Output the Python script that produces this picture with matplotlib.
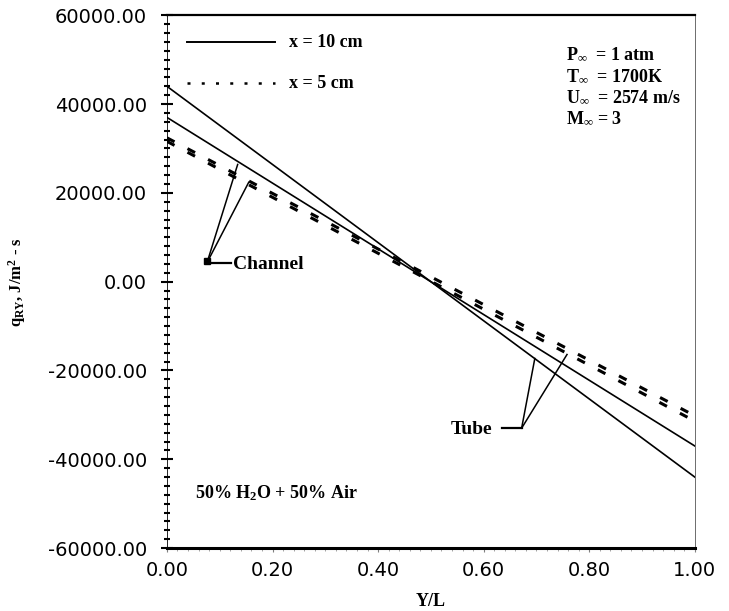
import matplotlib
matplotlib.use("Agg")
import matplotlib.pyplot as plt
from matplotlib.ticker import MultipleLocator, FormatStrFormatter

plt.rcParams["mathtext.fontset"] = "custom"
plt.rcParams["mathtext.rm"] = "Liberation Serif:bold"
plt.rcParams["mathtext.it"] = "Liberation Serif:bold"
plt.rcParams["mathtext.bf"] = "Liberation Serif:bold"
plt.rcParams["mathtext.default"] = "rm"

# Y/L positions and heat flux values
yl = [0.0, 1.0]
tube_10cm = [44000, -44000]
channel_10cm = [37000, -37000]
tube_5cm = [32400, -30200]
channel_5cm = [31600, -31400]

xticks = [0.0, 0.2, 0.4, 0.6, 0.8, 1.0]
yticks = [-60000, -40000, -20000, 0, 20000, 40000, 60000]

conditions = [r"P$_{\infty}$  = 1 atm", r"T$_{\infty}$  = 1700K",
              r"U$_{\infty}$  = 2574 m/s", r"M$_{\infty}$ = 3"]

serif = "Liberation Serif"

fig = plt.figure(figsize=(7.29, 6.11), dpi=100)
ax = fig.add_axes([0.229, 0.103, 0.724, 0.872])

ax.plot(yl, tube_10cm, color="black", lw=1.2)
ax.plot(yl, channel_10cm, color="black", lw=1.2)
ax.plot(yl, tube_5cm, color="black", lw=2.2, linestyle=(0, (2.8, 4.8)))
ax.plot(yl, channel_5cm, color="black", lw=2.2, linestyle=(0, (2.8, 4.8)))

ax.set_xlim(0, 1)
ax.set_ylim(-60000, 60000)
ax.set_xticks(xticks)
ax.set_yticks(yticks)
ax.xaxis.set_major_formatter(FormatStrFormatter("%.2f"))
ax.yaxis.set_major_formatter(FormatStrFormatter("%.2f"))
ax.yaxis.set_minor_locator(MultipleLocator(2000))
ax.xaxis.set_minor_locator(MultipleLocator(0.02))

ax.tick_params(axis="y", which="major", direction="inout", length=9, width=1.5, pad=10,
               labelsize=14)
ax.tick_params(axis="y", which="minor", direction="inout", length=5, width=1.5)
ax.tick_params(axis="x", which="major", direction="out", length=3, width=0.8, pad=6,
               labelsize=14, color="gray")
ax.tick_params(axis="x", which="minor", direction="out", length=2, width=0.5, color="gray")
ax.tick_params(top=False, right=False)

ax.spines["left"].set_linewidth(0.6)
ax.spines["bottom"].set_linewidth(2.2)
ax.spines["top"].set_linewidth(1.6)
ax.spines["right"].set_linewidth(0.6)
ax.spines["right"].set_color("#555555")

# legend drawn by hand like the original
leg_x = [0.038, 0.204]
ax.plot(leg_x, [53900, 53900], color="black", lw=1.4)
ax.plot(leg_x, [44700, 44700], color="black", lw=1.8, linestyle=(0, (1.2, 4.5)))
ax.text(0.232, 53900, "x = 10 cm", family=serif, weight="bold", fontsize=13, va="center")
ax.text(0.232, 44700, "x = 5 cm", family=serif, weight="bold", fontsize=13, va="center")

for i, s in enumerate(conditions):
    ax.text(0.756, 0.925 - i * 0.04, s, transform=ax.transAxes, family=serif,
            weight="bold", fontsize=13, va="center")

# Channel pointer
ch_corner = (0.076, 4300)
ch_ends = [(0.134, 26400), (0.155, 22400)]
for ex, ey in ch_ends:
    ax.plot([ch_corner[0], ex], [ch_corner[1], ey], color="black", lw=1.1)
ax.plot([ch_corner[0], 0.122], [ch_corner[1], ch_corner[1]], color="black", lw=1.6)
ax.plot([ch_corner[0]], [ch_corner[1] + 400], marker="s", ms=4, color="black")
ax.text(0.125, 3900, "Channel", family=serif, weight="bold", fontsize=14, va="center")

# Tube pointer
tb_corner = (0.672, -33000)
tb_ends = [(0.697, -17300), (0.758, -16400)]
for ex, ey in tb_ends:
    ax.plot([tb_corner[0], ex], [tb_corner[1], ey], color="black", lw=1.1)
ax.plot([0.634, tb_corner[0]], [tb_corner[1], tb_corner[1]], color="black", lw=1.6)
ax.text(0.617, -33200, "Tube", family=serif, weight="bold", fontsize=14,
        va="center", ha="right")

ax.text(0.053, -47600, r"50% H$_2$O + 50% Air", family=serif, weight="bold",
        fontsize=13, va="center")

ax.set_xlabel("Y/L", family=serif, weight="bold", fontsize=13, labelpad=10)
ax.set_ylabel(r"q$_{RY}$, J/m$^2$ - s", family=serif, weight="bold", fontsize=12,
              labelpad=14)

fig.savefig("out.png", dpi=100)
